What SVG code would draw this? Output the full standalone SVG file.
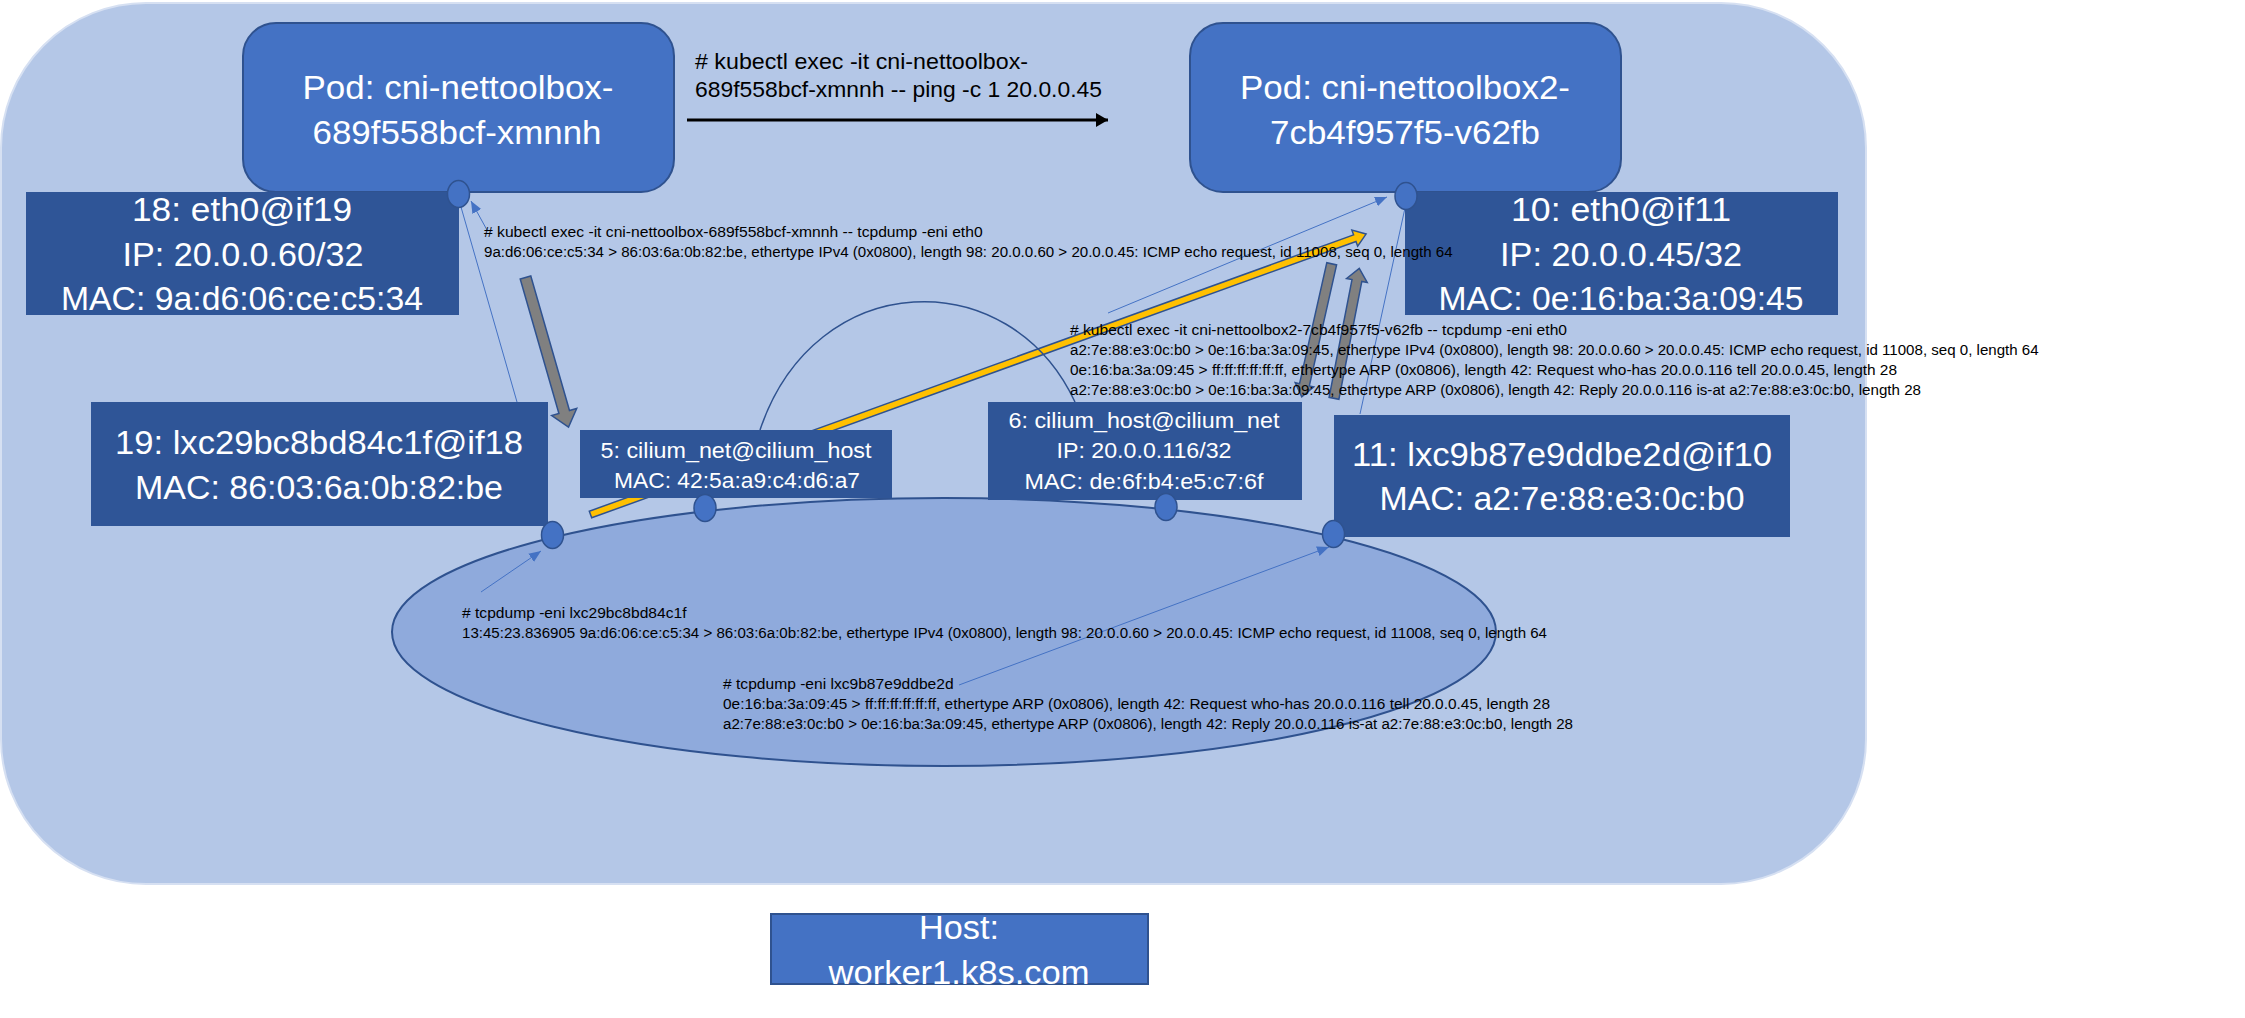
<svg xmlns="http://www.w3.org/2000/svg" width="2245" height="1018" viewBox="0 0 2245 1018">
<defs>
<style>
text{font-family:"Liberation Sans",Arial,sans-serif}
.big{font-size:33px;fill:#fff;text-anchor:middle}
.mid{font-size:22.5px;fill:#fff;text-anchor:middle}
.sm{font-size:14px;fill:#000}
.ping{font-size:22.5px;fill:#000}
.iface{fill:#2F5597}
.pod{fill:#4472C4;stroke:#2F528F;stroke-width:2}
.dot{fill:#4472C4;stroke:#2F528F;stroke-width:1.5}
.thin{stroke:#4472C4;stroke-width:1;fill:none}
.gray{fill:#808080;stroke:#2F528F;stroke-width:1.5}
.yel{fill:#FFC000;stroke:#2F528F;stroke-width:1.5}
</style>
<marker id="ah" markerUnits="userSpaceOnUse" markerWidth="13" markerHeight="11" refX="12" refY="5" orient="auto">
<path d="M0,0 L12,5 L0,10 z" fill="#4472C4"/>
</marker>
<marker id="bh" markerUnits="userSpaceOnUse" markerWidth="14" markerHeight="15" refX="12" refY="7" orient="auto">
<path d="M0,0 L12,7 L0,14 z" fill="#000"/>
</marker>
</defs>

<g id="host-area">
<rect x="1" y="3" width="1865" height="881" rx="145" ry="145" fill="#B4C7E7" stroke="#D6E0F2" stroke-width="2"/>
</g>

<g id="bridge">
<ellipse cx="944" cy="632" rx="552" ry="134" fill="#8FAADC" stroke="#2F528F" stroke-width="2"/>
</g>

<g id="connectors">
<line class="thin" x1="517" y1="402" x2="461" y2="207"/>
<line class="thin" x1="1360" y1="414" x2="1405" y2="208"/>
<line class="thin" x1="487" y1="230" x2="471" y2="201" marker-end="url(#ah)"/>
<line class="thin" x1="481" y1="592" x2="541" y2="551" marker-end="url(#ah)"/>
<line class="thin" x1="959" y1="685" x2="1329" y2="547" marker-end="url(#ah)"/>
<line class="thin" x1="1108" y1="313" x2="1387" y2="197" marker-end="url(#ah)"/>
<line x1="687" y1="120" x2="1108" y2="120" stroke="#000" stroke-width="3" marker-end="url(#bh)"/>
<path id="yellow-arrow" class="yel" transform="translate(590.5,514.5) rotate(-19.88)" d="M0,-3.5 L812.7,-3.5 L812.7,-8.5 L824.7,0 L812.7,8.5 L812.7,3.5 L0,3.5 Z"/>
<path d="M760,430 C815,266 1010,262 1075,402" fill="none" stroke="#2F528F" stroke-width="1.5"/>
</g>

<g id="pod1">
<rect class="pod" x="243" y="23" width="431" height="169" rx="33" ry="33"/>
<text class="big" x="458" y="99" textLength="311" lengthAdjust="spacingAndGlyphs">Pod: cni-nettoolbox-</text>
<text class="big" x="457" y="144" textLength="289" lengthAdjust="spacingAndGlyphs">689f558bcf-xmnnh</text>
</g>

<g id="pod2">
<rect class="pod" x="1190" y="23" width="431" height="169" rx="33" ry="33"/>
<text class="big" x="1405" y="99" textLength="330" lengthAdjust="spacingAndGlyphs">Pod: cni-nettoolbox2-</text>
<text class="big" x="1405" y="144" textLength="270" lengthAdjust="spacingAndGlyphs">7cb4f957f5-v62fb</text>
</g>

<g id="eth0-pod1">
<rect class="iface" x="26" y="192" width="433" height="123"/>
<text class="big" x="242" y="221" textLength="220" lengthAdjust="spacingAndGlyphs">18: eth0@if19</text>
<text class="big" x="243" y="266" textLength="241" lengthAdjust="spacingAndGlyphs">IP: 20.0.0.60/32</text>
<text class="big" x="242" y="310" textLength="362" lengthAdjust="spacingAndGlyphs">MAC: 9a:d6:06:ce:c5:34</text>
</g>

<g id="eth0-pod2">
<rect class="iface" x="1405" y="192" width="433" height="123"/>
<text class="big" x="1621" y="221" textLength="220" lengthAdjust="spacingAndGlyphs">10: eth0@if11</text>
<text class="big" x="1621" y="266" textLength="242" lengthAdjust="spacingAndGlyphs">IP: 20.0.0.45/32</text>
<text class="big" x="1621" y="310" textLength="365" lengthAdjust="spacingAndGlyphs">MAC: 0e:16:ba:3a:09:45</text>
</g>

<g id="lxc-pod1">
<rect class="iface" x="91" y="402" width="457" height="124"/>
<text class="big" x="319" y="454" textLength="408" lengthAdjust="spacingAndGlyphs">19: lxc29bc8bd84c1f@if18</text>
<text class="big" x="319" y="499" textLength="368" lengthAdjust="spacingAndGlyphs">MAC: 86:03:6a:0b:82:be</text>
</g>

<g id="lxc-pod2">
<rect class="iface" x="1334" y="415" width="456" height="122"/>
<text class="big" x="1562" y="466" textLength="420" lengthAdjust="spacingAndGlyphs">11: lxc9b87e9ddbe2d@if10</text>
<text class="big" x="1562" y="510" textLength="365" lengthAdjust="spacingAndGlyphs">MAC: a2:7e:88:e3:0c:b0</text>
</g>

<g id="cilium-net">
<rect class="iface" x="580" y="430" width="312" height="68"/>
<text class="mid" x="736" y="458" textLength="271" lengthAdjust="spacingAndGlyphs">5: cilium_net@cilium_host</text>
<text class="mid" x="737" y="488" textLength="246" lengthAdjust="spacingAndGlyphs">MAC: 42:5a:a9:c4:d6:a7</text>
</g>

<g id="cilium-host">
<rect class="iface" x="988" y="402" width="314" height="98"/>
<text class="mid" x="1144" y="428" textLength="271" lengthAdjust="spacingAndGlyphs">6: cilium_host@cilium_net</text>
<text class="mid" x="1144" y="458" textLength="175" lengthAdjust="spacingAndGlyphs">IP: 20.0.0.116/32</text>
<text class="mid" x="1144" y="489" textLength="239" lengthAdjust="spacingAndGlyphs">MAC: de:6f:b4:e5:c7:6f</text>
</g>

<g id="ports">
<ellipse class="dot" cx="458.5" cy="194" rx="11" ry="13.5"/>
<ellipse class="dot" cx="1406" cy="196" rx="11" ry="13.5"/>
<ellipse class="dot" cx="552.5" cy="535" rx="11" ry="13.5"/>
<ellipse class="dot" cx="705" cy="508" rx="11" ry="13.5"/>
<ellipse class="dot" cx="1166" cy="507" rx="11" ry="13.5"/>
<ellipse class="dot" cx="1333.5" cy="534" rx="11" ry="13.5"/>
</g>

<g id="flow-arrows">
<path class="gray" transform="translate(525.5,277.5) rotate(73.95)" d="M0,-5.5 L140,-5.5 L140,-13 L155.6,0 L140,13 L140,5.5 L0,5.5 Z"/>
<path class="gray" transform="translate(1331.7,263.8) rotate(102.7)" d="M0,-5 L124,-5 L124,-9.5 L136.3,0 L124,9.5 L124,5 L0,5 Z"/>
<path class="gray" transform="translate(1334,398.3) rotate(-79)" d="M0,-5 L120,-5 L120,-10.5 L132.4,0 L120,10.5 L120,5 L0,5 Z"/>
</g>

<g id="labels">
<text class="ping" x="695" y="69" textLength="333" lengthAdjust="spacingAndGlyphs"># kubectl exec -it cni-nettoolbox-</text>
<text class="ping" x="695" y="97" textLength="407" lengthAdjust="spacingAndGlyphs">689f558bcf-xmnnh -- ping -c 1 20.0.0.45</text>

<text class="sm" x="484" y="237" textLength="498.6" lengthAdjust="spacingAndGlyphs"># kubectl exec -it cni-nettoolbox-689f558bcf-xmnnh -- tcpdump -eni eth0</text>
<text class="sm" x="484" y="257" textLength="968.6" lengthAdjust="spacingAndGlyphs">9a:d6:06:ce:c5:34 &gt; 86:03:6a:0b:82:be, ethertype IPv4 (0x0800), length 98: 20.0.0.60 &gt; 20.0.0.45: ICMP echo request, id 11008, seq 0, length 64</text>

<text class="sm" x="1070" y="335" textLength="497" lengthAdjust="spacingAndGlyphs"># kubectl exec -it cni-nettoolbox2-7cb4f957f5-v62fb -- tcpdump -eni eth0</text>
<text class="sm" x="1070" y="355" textLength="968.6" lengthAdjust="spacingAndGlyphs">a2:7e:88:e3:0c:b0 &gt; 0e:16:ba:3a:09:45, ethertype IPv4 (0x0800), length 98: 20.0.0.60 &gt; 20.0.0.45: ICMP echo request, id 11008, seq 0, length 64</text>
<text class="sm" x="1070" y="375" textLength="827" lengthAdjust="spacingAndGlyphs">0e:16:ba:3a:09:45 &gt; ff:ff:ff:ff:ff:ff, ethertype ARP (0x0806), length 42: Request who-has 20.0.0.116 tell 20.0.0.45, length 28</text>
<text class="sm" x="1070" y="395" textLength="851" lengthAdjust="spacingAndGlyphs">a2:7e:88:e3:0c:b0 &gt; 0e:16:ba:3a:09:45, ethertype ARP (0x0806), length 42: Reply 20.0.0.116 is-at a2:7e:88:e3:0c:b0, length 28</text>

<text class="sm" x="462" y="618" textLength="224.5" lengthAdjust="spacingAndGlyphs"># tcpdump -eni lxc29bc8bd84c1f</text>
<text class="sm" x="462" y="638" textLength="1085" lengthAdjust="spacingAndGlyphs">13:45:23.836905 9a:d6:06:ce:c5:34 &gt; 86:03:6a:0b:82:be, ethertype IPv4 (0x0800), length 98: 20.0.0.60 &gt; 20.0.0.45: ICMP echo request, id 11008, seq 0, length 64</text>

<text class="sm" x="723" y="689" textLength="230.6" lengthAdjust="spacingAndGlyphs"># tcpdump -eni lxc9b87e9ddbe2d</text>
<text class="sm" x="723" y="709" textLength="827" lengthAdjust="spacingAndGlyphs">0e:16:ba:3a:09:45 &gt; ff:ff:ff:ff:ff:ff, ethertype ARP (0x0806), length 42: Request who-has 20.0.0.116 tell 20.0.0.45, length 28</text>
<text class="sm" x="723" y="729" textLength="850" lengthAdjust="spacingAndGlyphs">a2:7e:88:e3:0c:b0 &gt; 0e:16:ba:3a:09:45, ethertype ARP (0x0806), length 42: Reply 20.0.0.116 is-at a2:7e:88:e3:0c:b0, length 28</text>
</g>

<g id="host-label">
<rect class="pod" x="771" y="914" width="377" height="70"/>
<text class="big" x="959" y="939" textLength="80" lengthAdjust="spacingAndGlyphs">Host:</text>
<text class="big" x="959" y="984" textLength="261" lengthAdjust="spacingAndGlyphs">worker1.k8s.com</text>
</g>
</svg>
